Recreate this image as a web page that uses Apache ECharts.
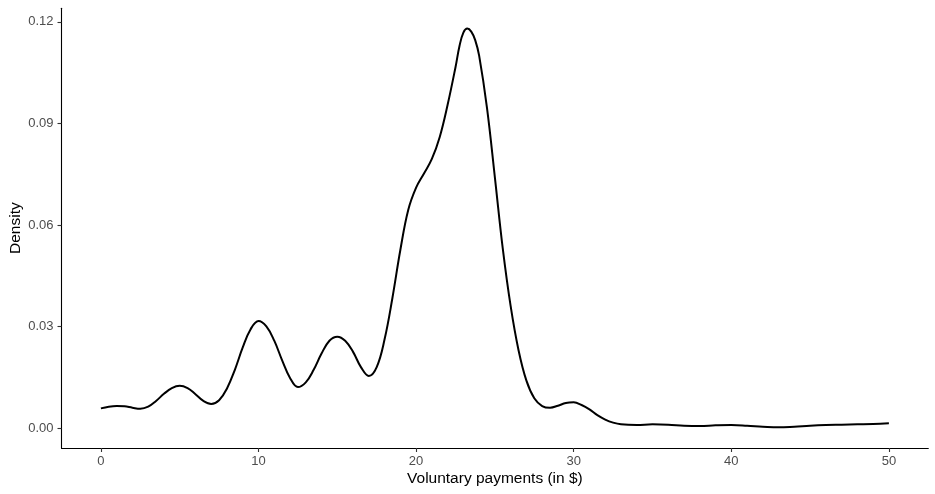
<!DOCTYPE html>
<html>
<head>
<meta charset="utf-8">
<script src="https://cdn.jsdelivr.net/npm/echarts@6/dist/echarts.min.js"></script>
<style>
html,body{margin:0;padding:0;background:#fff;}
#chart{width:935px;height:494px;}
</style>
</head>
<body>
<div id="chart"></div>
<script>
// Density estimate points
var xValues = [0, 0.5, 1.0, 1.5, 2.0, 2.5, 3.0, 3.5, 4.0, 4.5, 5.0, 5.5, 6.0, 6.5, 7.0, 7.5, 8.0, 8.5, 9.0, 9.5,
  10.0, 10.5, 11.0, 11.5, 12.0, 12.5, 13.0, 13.5, 14.0, 14.5, 15.0, 15.5, 16.0, 16.5, 17.0, 17.5, 18.0, 18.5, 19.0, 19.5,
  20.0, 20.5, 21.0, 21.5, 22.0, 22.5, 22.75, 23.0, 23.25, 23.5, 23.75, 24.0, 24.5, 25.0, 25.5, 26.0, 26.5, 27.0, 27.5, 28.0, 28.5, 29.0, 29.5,
  30.0, 30.5, 31.0, 31.5, 32.0, 32.5, 33.0, 34.0, 35.0, 36.0, 37.0, 38.0, 39.0, 40.0, 41.0, 42.0, 43.0, 44.0, 45.0, 46.0,
  47.0, 48.0, 49.0, 50.0];
var densityValues = [0.0058, 0.0063, 0.0065, 0.0064, 0.0060, 0.0057, 0.0063, 0.0080, 0.0101, 0.0118, 0.0125, 0.0118, 0.0100, 0.0080, 0.0071, 0.0082, 0.0117, 0.0172, 0.0238, 0.0292,
  0.0316, 0.0300, 0.0258, 0.0200, 0.0148, 0.0121, 0.0135, 0.0172, 0.0220, 0.0258, 0.0270, 0.0258, 0.0225, 0.0180, 0.0154, 0.0180, 0.0262, 0.0385, 0.0526, 0.0644,
  0.0710, 0.0752, 0.0795, 0.0860, 0.0955, 0.1066, 0.1128, 0.1168, 0.1180, 0.1171, 0.1146, 0.1100, 0.0945, 0.0740, 0.0530, 0.0360, 0.0230, 0.0140, 0.0088, 0.0065, 0.0060, 0.0066, 0.0074,
  0.0076, 0.0068, 0.0055, 0.0038, 0.0025, 0.0016, 0.0011, 0.0009, 0.0011, 0.0010, 0.0007, 0.0006, 0.0008, 0.0009, 0.0007, 0.0004, 0.0002, 0.0004, 0.0007, 0.0009,
  0.0010, 0.0011, 0.0012, 0.0014];
var xTicks = [0, 10, 20, 30, 40, 50];
var yTicks = [0, 0.03, 0.06, 0.09, 0.12];
var xTitle = 'Voluntary payments (in $)';
var yTitle = 'Density';

var seriesData = xValues.map(function (x, i) { return [x, densityValues[i]]; });

var chart = echarts.init(document.getElementById('chart'), null, {renderer: 'canvas'});
var fontFam = '"Liberation Sans", Arial, Helvetica, sans-serif';
chart.setOption({
  animation: false,
  backgroundColor: '#ffffff',
  grid: {left: 61.5, right: 6.7, top: 8.3, bottom: 46, containLabel: false, outerBoundsMode: 'none'},
  xAxis: {
    type: 'value',
    min: -2.5, max: 52.5,
    name: xTitle,
    nameLocation: 'middle',
    nameGap: 23,
    nameMoveOverlap: false,
    nameTextStyle: {color: '#000', fontSize: 15.5, fontFamily: fontFam},
    axisLine: {show: true, onZero: false, lineStyle: {color: '#000', width: 1.1}},
    axisTick: {show: true, length: 4, lineStyle: {color: '#333', width: 1.1},
      customValues: xTicks},
    axisLabel: {color: '#4d4d4d', fontSize: 13, fontFamily: fontFam, margin: 7,
      customValues: xTicks,
      formatter: function (v) { return String(v); }},
    splitLine: {show: false}
  },
  yAxis: {
    type: 'value',
    min: -0.0059, max: 0.1240,
    name: yTitle,
    nameLocation: 'middle',
    nameGap: 38,
    nameMoveOverlap: false,
    nameTextStyle: {color: '#000', fontSize: 15.5, fontFamily: fontFam},
    axisLine: {show: true, onZero: false, lineStyle: {color: '#000', width: 1.1}},
    axisTick: {show: true, length: 4, lineStyle: {color: '#333', width: 1.1},
      customValues: yTicks},
    axisLabel: {color: '#4d4d4d', fontSize: 13, fontFamily: fontFam, margin: 8,
      customValues: yTicks,
      formatter: function (v) { return v.toFixed(2); }},
    splitLine: {show: false}
  },
  series: [{
    type: 'line',
    data: seriesData,
    smooth: 0.4,
    showSymbol: false,
    symbol: 'none',
    lineStyle: {color: '#000', width: 2}
  }]
});
</script>
</body>
</html>
